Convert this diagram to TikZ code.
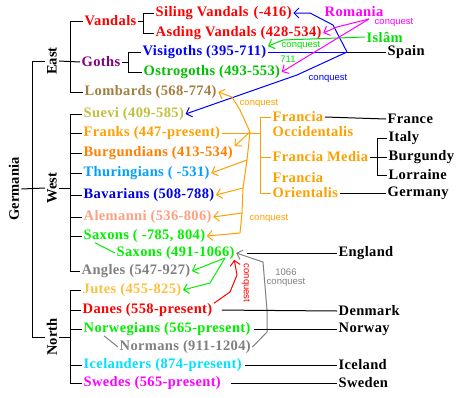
\documentclass[tikz,border=0pt]{standalone}
\usepackage{fontspec}
\setmainfont{Liberation Serif}
\newfontfamily\labfont{Liberation Sans}
\usetikzlibrary{arrows.meta,calc}
\definecolor{cred}{HTML}{FF0000}
\definecolor{cpurple}{HTML}{800080}
\definecolor{cblue}{HTML}{0000FF}
\definecolor{cogreen}{HTML}{00C000}
\definecolor{clomb}{HTML}{A08040}
\definecolor{csuevi}{HTML}{C0C040}
\definecolor{corange}{HTML}{FFA000}
\definecolor{cburg}{HTML}{FF8000}
\definecolor{cthur}{HTML}{00A0FF}
\definecolor{cbav}{HTML}{0000E0}
\definecolor{calem}{HTML}{FFA080}
\definecolor{cgreen}{HTML}{00F000}
\definecolor{cgray}{HTML}{808080}
\definecolor{cjutes}{HTML}{FFC040}
\definecolor{ccyan}{HTML}{00E0FF}
\definecolor{cmag}{HTML}{FF00FF}
\definecolor{cislam}{HTML}{00E000}
\begin{document}
\begin{tikzpicture}[x=1pt,y=-1pt,
  t/.style={anchor=west,inner xsep=1.5pt,inner ysep=0pt,font=\fontsize{14.5}{15}\selectfont\bfseries\addfontfeature{LetterSpace=2.5}},
  rot/.style={rotate=90,inner xsep=0pt,inner ysep=2pt,font=\fontsize{14.5}{15}\selectfont\bfseries},
  lbl/.style={inner sep=0pt,font=\labfont\fontsize{9.5}{9.5}\selectfont},
  ln/.style={line width=1pt},
  arr/.style={line width=1pt,-{Straight Barb[length=5pt,width=10pt,line width=1pt]}}]
\useasboundingbox (0,0) rectangle (461,397);
% rotated group labels
\node[rot] (germania) at (14,189) {Germania};
\node[rot] (east) at (52,61) {East};
\node[rot] (west) at (52,188) {West};
\node[rot] (north) at (52,337) {North};
% tribes
\node[t,cred] (vandals) at (83,21) {Vandals};
\node[t,cred] (siling) at (154,13) {Siling Vandals\hspace{5pt}(-416)};
\node[t,cred] (asding) at (154,33) {Asding Vandals (428-534)};
\node[t,cpurple] (goths) at (80,62) {Goths};
\node[t,cblue] (visi) at (141,52) {Visigoths (395-711)};
\node[t,cogreen] (ostro) at (142,72) {Ostrogoths (493-553)};
\node[t,clomb] (lombards) at (83,92) {Lombards (568-774)};
\node[t,csuevi] (suevi) at (82,114) {Suevi (409-585)};
\node[t,corange] (franks) at (82,133) {Franks (447-present)};
\node[t,cburg] (burg) at (82,153) {Burgundians (413-534)};
\node[t,cthur] (thur) at (82,173) {Thuringians ( -531)};
\node[t,cbav] (bav) at (82,195) {Bavarians (508-788)};
\node[t,calem] (alem) at (82,217) {Alemanni (536-806)};
\node[t,cgreen] (saxons) at (82,236) {Saxons ( -785, 804)};
\node[t,cgreen] (saxons2) at (115,253) {Saxons (491-1066)};
\node[t,cgray] (angles) at (80,271) {Angles (547-927)};
\node[t,cjutes] (jutes) at (81,290) {Jutes (455-825)};
\node[t,cred] (danes) at (81,310) {Danes (558-present)};
\node[t,cgreen] (norw) at (82,329) {Norwegians (565-present)};
\node[t,cgray] (normans) at (118,347) {Normans (911-1204)};
\node[t,ccyan] (icel) at (82,365) {Icelanders (874-present)};
\node[t,cmag] (swedes) at (82,383) {Swedes (565-present)};
% right side
\node[t,cmag] (romania) at (323,12) {Romania};
\node[t,cislam] (islam) at (365,37) {Islâm};
\node[t] (spain) at (386,52) {Spain};
\node[t,corange] (fo1) at (271,117) {Francia};
\node[t,corange] (fo2) at (271,132) {Occidentalis};
\node[t,corange] (fm) at (271,157) {Francia Media};
\node[t,corange] (for1) at (271,178) {Francia};
\node[t,corange] (for2) at (271,193) {Orientalis};
\node[t] (france) at (386,119) {France};
\node[t] (italy) at (387,138) {Italy};
\node[t] (burgundy) at (387,157) {Burgundy};
\node[t] (lorraine) at (387,175) {Lorraine};
\node[t] (germany) at (386,193) {Germany};
\node[t] (england) at (337,253) {England};
\node[t] (denmark) at (337,311) {Denmark};
\node[t] (norway) at (337,329) {Norway};
\node[t] (iceland) at (337,365) {Iceland};
\node[t] (sweden) at (337,383) {Sweden};
% small labels
\node[lbl,cblue] (cq1) at (328,78) {conquest};
\node[lbl,cislam] (cq2) at (301,45) {conquest};
\node[lbl,cislam] (n711) at (288,59) {711};
\node[lbl,cmag] (cq3) at (394,22) {conquest};
\node[lbl,corange] (cq4) at (259,103) {conquest};
\node[lbl,corange] (cq5) at (269,218) {conquest};
\node[lbl,cgray,align=center,font=\labfont\fontsize{9.5}{9}\selectfont] (cq6) at (286,278) {1066\\conquest};
\node[lbl,cred,rotate=-90] (cq7) at (246,283) {conquest};
% helper coordinates
\coordinate (wb) at (70,0);
\coordinate (vb) at (143,0);
\coordinate (gb) at (128,0);
\coordinate (sp) at (347,52);
\coordinate (fan) at (250,132);
\coordinate (fb) at (260,0);
\coordinate (mb) at (377,0);
\coordinate (rom) at (369,19);
\coordinate (sx) at (225,258);
% main tree
\draw[ln] (east.north) -- (32,61) -- (32,337) -- (north.north);
\draw[ln] (germania.south) -- (west.north);
\draw[ln] (east.south) -- (goths.west);
\draw[ln] (west.south) -- (west.south -| wb);
\draw[ln] (north.south) -- (north.south -| wb);
\draw[ln] (vandals.west) -- (vandals.west -| wb) |- (lombards.west);
\draw[ln] (suevi.west) -- (suevi.west -| wb) |- (angles.west);
\foreach \n in {franks,burg,thur,bav,alem,saxons} \draw[ln] (\n.west) -- (\n.west -| wb);
\draw[ln] (jutes.west) -- (jutes.west -| wb) |- (swedes.west);
\foreach \n in {danes,norw,icel} \draw[ln] (\n.west) -- (\n.west -| wb);
\draw[ln] (vandals.east) -- (vandals.east -| vb);
\draw[ln] (siling.west) -- (siling.west -| vb) |- (asding.west);
\draw[ln] (goths.east) -- (goths.east -| gb);
\draw[ln] (visi.west) -- (visi.west -| gb) |- (ostro.west);
% thin sub links
\draw[ln,cgreen] ([xshift=13pt]saxons.south west) -- (saxons2.west);
\draw[ln,cgray] ([xshift=22pt]norw.south west) -- (normans.west);
% Spain / Visigoths / Vandals
\draw[ln] (sp) -- (spain.west);
\draw[ln,cblue] (visi.east) -- (sp);
\draw[arr,cblue] (sp) -- (333,25) -- (310,13) -- (siling.east);
\draw[arr,cblue] (sp) -- (297,75) -- (suevi.east);
\draw[arr,cislam] (islam.west) -- (283,40) -- ([yshift=-1pt]visi.north east);
\draw[arr,cmag] (rom) -- (337,27) -- (asding.east);
\draw[arr,cmag] (rom) -- (ostro.east);
% Franks / Francia
\draw[ln,corange] (franks.east) -- (franks.east -| fb);
\draw[ln,corange] (fo1.west) -- (fo1.west -| fb) -- (for2.west -| fb) -- (for2.west);
\draw[ln,corange] (fm.west) -- (fm.west -| fb);
\draw[arr,corange] (fan) -- (240,110) -- (232,97) -- (lombards.east);
\draw[arr,corange] (fan) -- (burg.north east);
\draw[ln,corange] (fan) -- (247,160) -- (243,188) -- (242,213) -- (240,233);
\draw[arr,corange] (247,160) -- (thur.east);
\draw[arr,corange] (243,188) -- (bav.east);
\draw[arr,corange] (242,213) -- (alem.east);
\draw[arr,corange] (240,233) -- (saxons.east);
\draw[ln] (fo1.east) -- (france.west);
\draw[ln] (fm.east) -- (fm.east -| mb);
\draw[ln] (italy.west) -- (italy.west -| mb) |- (lorraine.west);
\draw[ln] (burgundy.west) -- (burgundy.west -| mb);
\draw[ln] (for2.east) -- (germany.west);
% England and north
\draw[ln] (england.west) -- ([xshift=11pt]saxons2.east);
\draw[arr,cgray] (normans.east) -- (267,332) -- (267,310) -- (263,262) -- (saxons2.east);
\draw[arr,cred] (danes.north east) -- (230,292) -- (237,275) -- ([xshift=-2pt]saxons2.south east);
\draw[arr,cgreen] (sx) -- (angles.east);
\draw[arr,cgreen] (sx) -- (210,283) -- (jutes.east);
\draw[ln,shorten <=8pt] (danes.east) -- (denmark.west);
\draw[ln,shorten <=2pt] (norw.east) -- (norway.west);
\draw[ln,shorten <=2pt] (icel.east) -- (iceland.west);
\draw[ln,shorten <=8pt] (swedes.east) -- (sweden.west);
\end{tikzpicture}
\end{document}
